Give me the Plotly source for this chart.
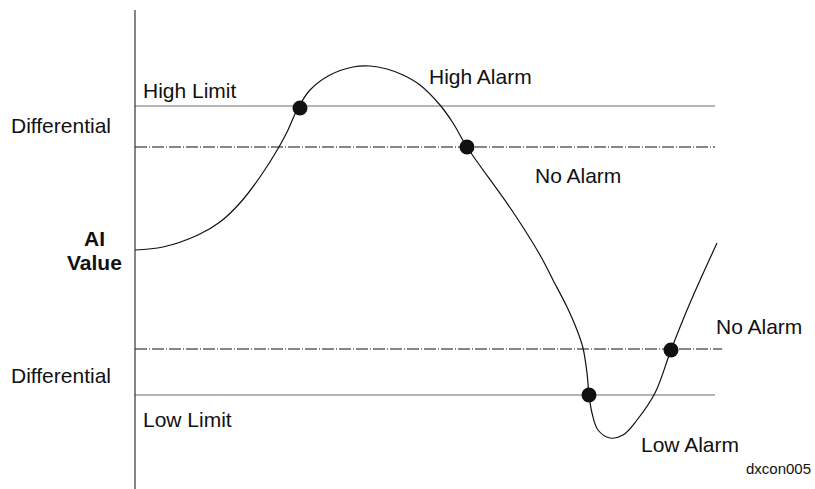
import plotly.graph_objects as go

# curve of the AI value (x = time, y = drawing units, top = 0)
curve_x = [135, 163, 198, 220, 240, 260, 279, 288, 297, 310, 330, 353, 370, 387, 403, 420,
           440, 453, 467, 513, 540, 553, 567, 577, 583, 587, 589, 592, 598, 610, 623,
           637, 655, 671, 690, 717]
curve_y = [250, 247, 235, 222, 203, 177, 147, 130, 110, 90, 75, 67, 66, 69, 75, 85,
           105, 123, 147, 212, 255, 280, 307, 330, 348, 373, 395, 413, 430, 438, 435,
           420, 393, 350, 303, 243]

# alarm transition points
dot_x = [300, 467, 589, 671]
dot_y = [108, 147, 395, 350]

# limit levels
high_limit = 106
high_diff = 147
low_diff = 349
low_limit = 395
line_start = 135
line_end = [715, 715, 722, 715]

labels = ["Differential", "Differential", "High Limit", "High Alarm", "No Alarm",
          "No Alarm", "Low Limit", "Low Alarm"]
label_x = [9, 9, 141, 427, 533, 714, 141, 639]
label_y = [132, 382, 97, 83, 182, 333, 426, 451]

fig = go.Figure()

levels = [high_limit, high_diff, low_diff, low_limit]
styles = [("#6e6e6e", "solid"), ("#111111", "12px,2px,1px,2px"),
          ("#111111", "12px,2px,1px,2px"), ("#6e6e6e", "solid")]
for lev, end, (col, dash) in zip(levels, line_end, styles):
    fig.add_trace(go.Scatter(x=[line_start, end], y=[lev, lev], mode="lines",
                             line=dict(color=col, width=1.2, dash=dash),
                             showlegend=False, hoverinfo="skip"))

fig.add_trace(go.Scatter(x=curve_x, y=curve_y, mode="lines",
                         line=dict(color="#111111", width=1.2, shape="spline", smoothing=1),
                         showlegend=False))
fig.add_trace(go.Scatter(x=dot_x, y=dot_y, mode="markers",
                         marker=dict(color="#111111", size=15),
                         showlegend=False))

# vertical axis
fig.add_shape(type="line", x0=135, x1=135, y0=10, y1=489, xref="x", yref="y",
              line=dict(color="#333333", width=1.2))

for t, x, y in zip(labels, label_x, label_y):
    fig.add_annotation(x=x, y=y - 7, text=t, showarrow=False, xanchor="left",
                       yanchor="middle", font=dict(size=21, color="#111111"))

fig.add_annotation(x=94, y=238, text="<b>AI</b>", showarrow=False, xanchor="center",
                   yanchor="middle", font=dict(size=21, color="#111111"))
fig.add_annotation(x=94, y=262, text="<b>Value</b>", showarrow=False, xanchor="center",
                   yanchor="middle", font=dict(size=21, color="#111111"))
fig.add_annotation(x=744, y=468, text="dxcon005", showarrow=False, xanchor="left",
                   yanchor="middle", font=dict(size=15, color="#111111"))

fig.update_layout(
    width=815, height=489,
    margin=dict(l=0, r=0, t=0, b=0),
    paper_bgcolor="white", plot_bgcolor="white",
    font=dict(family="Liberation Sans, Arial, sans-serif"),
    xaxis=dict(range=[0, 815], visible=False, fixedrange=True),
    yaxis=dict(range=[489, 0], visible=False, fixedrange=True),
)

# drop the default page margin so the figure sits at the window's corner
fig.write_html("out.html", config={"displayModeBar": False},
               post_script="document.body.style.margin='0';document.body.style.overflow='hidden';")
